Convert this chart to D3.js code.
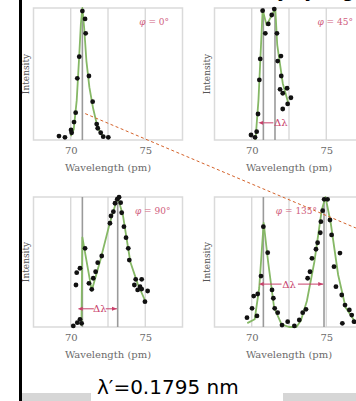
<!DOCTYPE html>
<html>
<head>
<meta charset="utf-8">
<style>
body { margin: 0; background: #fff; }
svg { display: block; }
</style>
</head>
<body>
<svg width="356" height="401"></svg>
<script src="https://cdn.jsdelivr.net/npm/d3@7/dist/d3.min.js"></script>
<script>

// scattering angles of the four panels
var angles = ["0°", "45°", "90°", "135°"];

// measured points [wavelength (pm), relative intensity]
var pts0 = [[69.21,0.03],[69.61,0.02],[70.02,0.076],[70.06,0.055],[70.22,0.136],[70.33,0.207],
  [70.44,0.467],[70.57,0.631],[70.78,0.977],[70.96,0.917],[71.00,0.808],[71.22,0.485],
  [71.47,0.29],[71.74,0.121],[71.81,0.089],[72.01,0.055],[72.18,0.025],[72.52,0.02]];
var pts45 = [[69.95,0.038],[70.22,0.02],[70.33,0.063],[70.42,0.197],[70.51,0.455],[70.57,0.614],
  [70.73,0.98],[70.91,0.808],[71.11,0.879],[71.34,0.947],[71.51,0.992],[71.69,0.808],
  [71.74,0.598],[71.96,0.636],[71.98,0.485],[71.9,0.384],[72.08,0.354],[72.37,0.392],
  [72.08,0.235],[72.41,0.273],[72.63,0.32]];
var pts90 = [[70.17,0.008],[70.44,0.033],[70.62,0.059],[70.73,0.028],[70.35,0.323],[70.40,0.418],
  [70.62,0.452],[70.96,0.605],[71.22,0.336],[71.41,0.29],[71.51,0.375],[71.67,0.425],
  [71.81,0.495],[72.08,0.546],[72.63,0.798],[72.70,0.854],[72.86,0.887],[72.97,0.952],
  [73.12,0.983],[73.24,0.998],[73.35,0.956],[73.42,0.879],[73.57,0.772],[73.71,0.687],
  [73.86,0.605],[73.93,0.515],[74.36,0.367],[74.76,0.367],[74.27,0.323],[74.65,0.31],
  [74.49,0.285],[74.76,0.292],[75.16,0.277],[74.98,0.195]];
var pts135 = [[69.68,0.072],[70.02,0.144],[70.13,0.238],[70.40,0.254],[70.35,0.085],[70.62,0.392],
  [70.78,0.772],[71.07,0.572],[71.36,0.285],[71.45,0.221],[71.54,0.144],[71.74,0.11],
  [72.03,0.015],[72.41,0.041],[72.86,0.008],[73.19,0.054],[73.42,0.11],[73.64,0.136],
  [73.75,0.375],[73.91,0.425],[74.04,0.528],[74.31,0.598],[74.42,0.648],[74.60,0.725],
  [74.64,0.81],[74.76,0.895],[74.86,0.982],[75.09,0.982],[75.25,0.823],[75.36,0.708],
  [75.92,0.569],[75.52,0.464],[75.65,0.31],[76.04,0.246],[76.26,0.169],[76.55,0.131],
  [76.71,0.092],[76.86,0.041],[76.08,0.028]];

// fitted curves (green)
var fit0 = [[70.0,0.03],[70.2,0.08],[70.4,0.3],[70.55,0.6],[70.68,0.88],[70.78,1.0],[70.9,0.85],
  [71.05,0.6],[71.25,0.4],[71.5,0.24],[71.75,0.12],[72.0,0.05],[72.3,0.02]];
var fit45 = [[70.25,0.0],[70.45,0.3],[70.73,0.985],[71.0,0.87],[71.58,0.997],[71.71,0.72],
  [72.08,0.43],[72.45,0.28]];
var fit90 = [[70.72,0.01],[70.78,0.69],[71.41,0.28],[72.0,0.52],[72.6,0.79],[73.15,1.0],
  [73.5,0.86],[74.0,0.5],[74.5,0.33],[75.0,0.2]];
var fit135 = [[69.7,0.03],[70.2,0.06],[70.5,0.3],[70.8,0.8],[71.1,0.5],[71.5,0.15],[72.0,0.02],
  [72.5,0.0],[73.0,0.0],[73.3,0.05],[73.7,0.2],[74.2,0.5],[74.7,0.9],[74.95,1.0],[75.3,0.8],
  [75.8,0.4],[76.3,0.15],[77.0,0.03]];

// lambda and lambda' lines (pm)
var lam0 = [70.78], lam45 = [70.78, 71.56], lam90 = [70.78, 73.15], lam135 = [70.78, 74.85];

var gridVals = [70, 72.5, 75];
var tickVals = [70, 75];
var shiftText = "λ′=0.1795 nm";

var svg = d3.select("svg");
var serif = "'DejaVu Serif', serif";

// layout of the four panels
var panels = [
  {phi: angles[0], pts: pts0,   fit: fit0,   lam: lam0,   left: 33.5,  top: 8,   bottom: 140, lx: 75.6},
  {phi: angles[1], pts: pts45,  fit: fit45,  lam: lam45,  left: 214.5, top: 8,   bottom: 140, lx: 75.6},
  {phi: angles[2], pts: pts90,  fit: fit90,  lam: lam90,  left: 33.5,  top: 197, bottom: 327, lx: 75.5},
  {phi: angles[3], pts: pts135, fit: fit135, lam: lam135, left: 214.5, top: 197, bottom: 327, lx: 73.0}
];

svg.append("defs").selectAll("marker")
    .data(["start", "end"])
  .enter().append("marker")
    .attr("id", function(d) { return "arr-" + d; })
    .attr("viewBox", "0 0 10 10")
    .attr("refX", function(d) { return d == "start" ? 0 : 10; })
    .attr("refY", 5)
    .attr("markerWidth", 5)
    .attr("markerHeight", 5)
    .attr("orient", "auto-start-reverse")
  .append("path")
    .attr("d", "M0,1L10,5L0,9z")
    .attr("fill", "#c8406a");

var scales = panels.map(function(p) {
  var x = d3.scaleLinear().domain([67.5, 77.5]).range([p.left, p.left + 149]);
  var y = d3.scaleLinear().domain([0, 1]).range([p.bottom, p.top]);
  var g = svg.append("g");

  g.append("rect")
      .attr("x", x(67.5)).attr("y", p.top)
      .attr("width", x(77.5) - x(67.5)).attr("height", p.bottom - p.top)
      .attr("fill", "#fff")
      .attr("stroke", "#dadada")
      .attr("stroke-width", 1.5);

  g.selectAll(".grid").data(gridVals).enter().append("line")
      .attr("x1", x).attr("x2", x)
      .attr("y1", p.top).attr("y2", p.bottom)
      .attr("stroke", "#d2d2d2")
      .attr("stroke-width", 1.2);

  g.selectAll(".lam").data(p.lam).enter().append("line")
      .attr("x1", x).attr("x2", x)
      .attr("y1", p.top).attr("y2", p.bottom)
      .attr("stroke", "#9a9a9a")
      .attr("stroke-width", 1.6);

  var axis = g.append("g")
      .attr("transform", "translate(0," + p.bottom + ")")
      .call(d3.axisBottom(x).tickValues(tickVals).tickSize(0).tickPadding(7));
  axis.select(".domain").remove();
  axis.selectAll("text")
      .attr("font-family", serif)
      .attr("font-size", 10)
      .attr("fill", "#6a6a6a");

  g.append("text")
      .attr("x", (x(67.5) + x(77.5)) / 2)
      .attr("y", p.bottom + 31)
      .attr("text-anchor", "middle")
      .attr("font-family", serif)
      .attr("font-size", 10)
      .attr("fill", "#6a6a6a")
      .text("Wavelength (pm)");

  g.append("text")
      .attr("transform", "translate(" + (p.left - 5) + "," + ((p.top + p.bottom) / 2) + ") rotate(-90)")
      .attr("text-anchor", "middle")
      .attr("font-family", serif)
      .attr("font-size", 9)
      .attr("fill", "#555")
      .text("Intensity");

  var phiLabel = g.append("text")
      .attr("x", x(p.lx))
      .attr("y", y(0.87))
      .attr("text-anchor", "middle")
      .attr("font-family", serif)
      .attr("font-size", 9)
      .attr("fill", "#d0607e");
  phiLabel.append("tspan").attr("font-style", "italic").text("φ");
  phiLabel.append("tspan").text(" = " + p.phi);

  g.append("path")
      .datum(p.fit)
      .attr("fill", "none")
      .attr("stroke", "#86b866")
      .attr("stroke-width", 1.8)
      .attr("stroke-linejoin", "round")
      .attr("d", d3.line().x(function(d) { return x(d[0]); }).y(function(d) { return y(d[1]); }));

  g.selectAll(".pt").data(p.pts).enter().append("circle")
      .attr("cx", function(d) { return x(d[0]); })
      .attr("cy", function(d) { return y(d[1]); })
      .attr("r", 2.4)
      .attr("fill", "#111");

  return {x: x, y: y, g: g};
});

// delta-lambda annotations
function dl(s, a, b, yv, textX, gapA, gapB, startHead, endHead) {
  var red = "#c8406a";
  if (gapA != null) {
    s.g.append("line")
        .attr("x1", s.x(a)).attr("x2", s.x(gapA))
        .attr("y1", s.y(yv)).attr("y2", s.y(yv))
        .attr("stroke", red).attr("stroke-width", 1)
        .attr("marker-start", startHead ? "url(#arr-start)" : null);
  }
  if (gapB != null) {
    s.g.append("line")
        .attr("x1", s.x(gapB)).attr("x2", s.x(b))
        .attr("y1", s.y(yv)).attr("y2", s.y(yv))
        .attr("stroke", red).attr("stroke-width", 1)
        .attr("marker-end", endHead ? "url(#arr-end)" : null);
  }
  s.g.append("text")
      .attr("x", s.x(textX))
      .attr("y", s.y(yv) + 3.5)
      .attr("text-anchor", "middle")
      .attr("font-family", serif)
      .attr("font-size", 10)
      .attr("fill", red)
      .text("Δλ");
}
dl(scales[1], 70.78, 71.45, 0.13, 71.95, 71.45, null, true, false);
dl(scales[2], 70.8, 73.1, 0.14, 71.95, 71.55, 72.35, true, true);
dl(scales[3], 70.8, 74.8, 0.33, 72.5, 72.0, 73.1, true, true);

// dashed guide line crossing the figure
var s0 = scales[0];
svg.append("line")
    .attr("x1", s0.x(70.97)).attr("y1", s0.y(0.2))
    .attr("x2", s0.x(89.14)).attr("y2", s0.y(-0.667))
    .attr("stroke", "#d4622a")
    .attr("stroke-width", 1)
    .attr("stroke-dasharray", "3,2.5");

// page furniture around the figure
svg.append("rect")
    .attr("x", 19).attr("y", 0).attr("width", 3).attr("height", 401)
    .attr("fill", "#000");
svg.append("rect")
    .attr("x", 22).attr("y", 393).attr("width", 69).attr("height", 8)
    .attr("fill", "#d6d6d6");
svg.append("rect")
    .attr("x", 283).attr("y", 393).attr("width", 73).attr("height", 8)
    .attr("fill", "#d6d6d6");
svg.append("text")
    .attr("x", 97).attr("y", 394)
    .attr("font-family", "'DejaVu Sans', sans-serif")
    .attr("font-size", 20)
    .attr("fill", "#000")
    .text(shiftText);
svg.append("text")
    .attr("x", 207).attr("y", -2)
    .attr("font-family", "'DejaVu Sans', sans-serif")
    .attr("font-weight", "bold")
    .attr("font-size", 16)
    .attr("fill", "#000")
    .text("Intensity by angle");

</script>
</body>
</html>
